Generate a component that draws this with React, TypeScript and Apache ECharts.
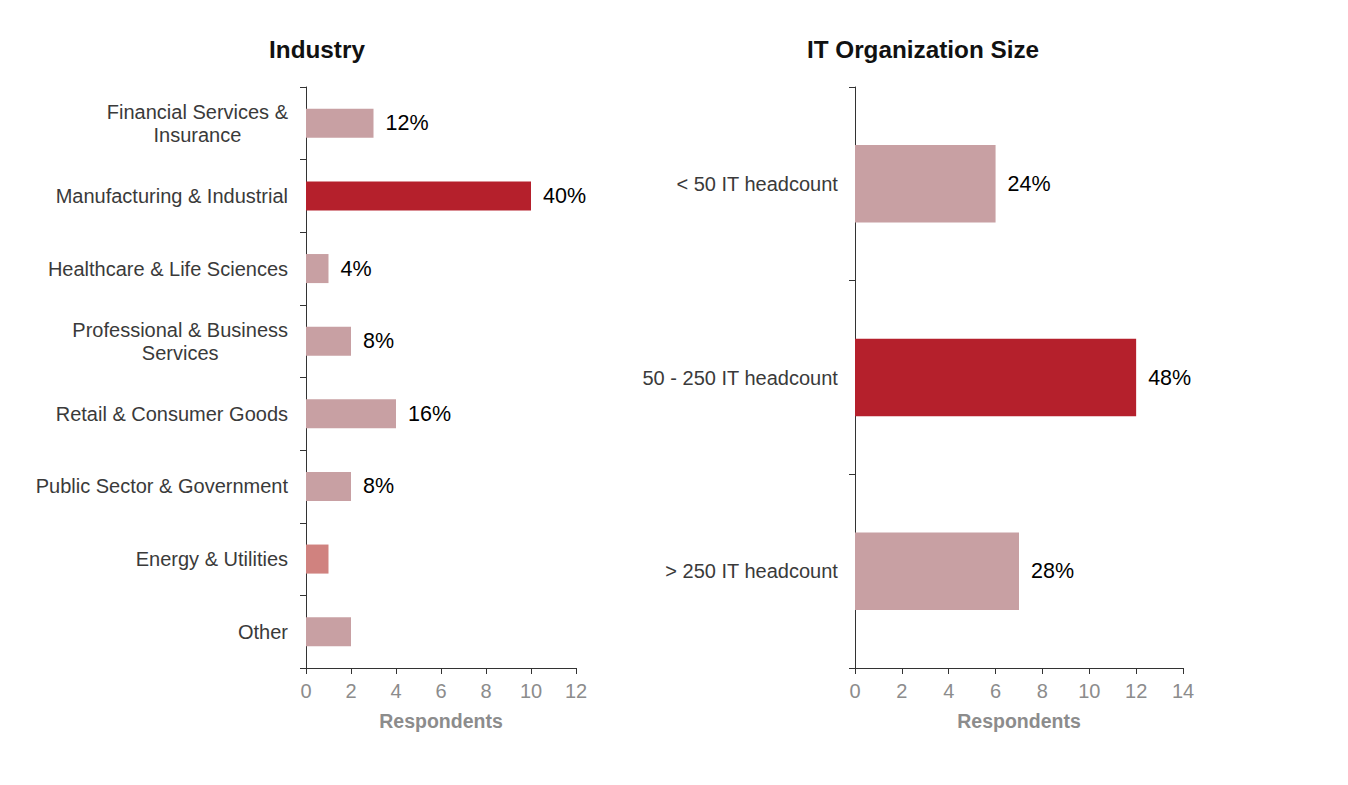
import React, { useEffect, useRef } from "react";
import * as echarts from "echarts";

const industryCategories = [
  "Financial Services &\nInsurance",
  "Manufacturing & Industrial",
  "Healthcare & Life Sciences",
  "Professional & Business\nServices",
  "Retail & Consumer Goods",
  "Public Sector & Government",
  "Energy & Utilities",
  "Other",
];
const industryValues = [3, 10, 1, 2, 4, 2, 1, 2];
const industryLabels = ["12%", "40%", "4%", "8%", "16%", "8%", "", ""];
const industryColors = ["#C8A0A3", "#B5202C", "#C8A0A3", "#C8A0A3", "#C8A0A3", "#C8A0A3", "#D0827F", "#C8A0A3"];

const sizeCategories = ["< 50 IT headcount", "50 - 250 IT headcount", "> 250 IT headcount"];
const sizeValues = [6, 12, 7];
const sizeLabels = ["24%", "48%", "28%"];
const sizeColors = ["#C8A0A3", "#B5202C", "#C8A0A3"];

const industryTicks = [0, 12, 2];
const sizeTicks = [0, 14, 2];

const FONT = 'Arial, "Liberation Sans", sans-serif';

export default function App() {
  const ref = useRef<HTMLDivElement>(null);
  useEffect(() => {
    if (!ref.current) return;
    const chart = echarts.init(ref.current, null, { renderer: "svg" });

    const catLabel = (margin: number) => ({
      fontSize: 20,
      color: "#3a3a3a",
      fontFamily: FONT,
      margin,
      align: "right",
      lineHeight: 23,
      formatter: (v: string) =>
        v
          .split("\n")
          .map((l) => "{c|" + l + "}")
          .join("\n"),
      rich: { c: { align: "center", fontSize: 20, color: "#3a3a3a", fontFamily: FONT, lineHeight: 23 } },
    });

    const valueAxis = (idx: number, ticks: number[]) => ({
      type: "value",
      gridIndex: idx,
      min: ticks[0],
      max: ticks[1],
      interval: ticks[2],
      splitLine: { show: false },
      axisLine: { show: true, lineStyle: { color: "#333", width: 1 } },
      axisTick: { show: true, length: 6, lineStyle: { color: "#333" } },
      axisLabel: { fontSize: 20, color: "#8c8c8c", fontFamily: FONT, margin: 13 },
      name: "Respondents",
      nameLocation: "middle",
      nameGap: 43,
      nameTextStyle: { fontSize: 19.5, fontWeight: "bold", color: "#8c8c8c", fontFamily: FONT },
    });

    const catAxis = (idx: number, cats: string[], margin: number) => ({
      type: "category",
      gridIndex: idx,
      data: cats,
      inverse: true,
      axisLine: { show: true, lineStyle: { color: "#333", width: 1 } },
      axisTick: { show: true, length: 6, lineStyle: { color: "#333" } },
      axisLabel: catLabel(margin),
    });

    const barSeries = (idx: number, values: number[], labels: string[], colors: string[]) => ({
      type: "bar",
      xAxisIndex: idx,
      yAxisIndex: idx,
      barWidth: "40%",
      data: values.map((v, i) => ({
        value: v,
        itemStyle: { color: colors[i] },
        label: {
          show: labels[i] !== "",
          position: "right",
          distance: 12,
          formatter: () => labels[i],
          fontSize: 21.5,
          color: "#000",
          fontFamily: FONT,
        },
      })),
    });

    chart.setOption({
      animation: false,
      textStyle: { fontFamily: FONT },
      title: [
        {
          text: "Industry",
          left: 312,
          top: 32,
          textAlign: "center",
          textStyle: { fontSize: 24.3, fontWeight: "bold", color: "#111", fontFamily: FONT },
        },
        {
          text: "IT Organization Size",
          left: 918,
          top: 32,
          textAlign: "center",
          textStyle: { fontSize: 24.3, fontWeight: "bold", color: "#111", fontFamily: FONT },
        },
      ],
      grid: [
        { left: 306, width: 270, top: 87, height: 581 },
        { left: 855, width: 328, top: 87, height: 581 },
      ],
      xAxis: [valueAxis(0, industryTicks), valueAxis(1, sizeTicks)],
      yAxis: [catAxis(0, industryCategories, 18), catAxis(1, sizeCategories, 17)],
      series: [
        barSeries(0, industryValues, industryLabels, industryColors),
        barSeries(1, sizeValues, sizeLabels, sizeColors),
      ],
    });
    return () => chart.dispose();
  }, []);
  return (
    <div
      ref={ref}
      style={{ position: "absolute", left: 0, top: 0, width: 1348, height: 785, background: "#fff" }}
    />
  );
}
